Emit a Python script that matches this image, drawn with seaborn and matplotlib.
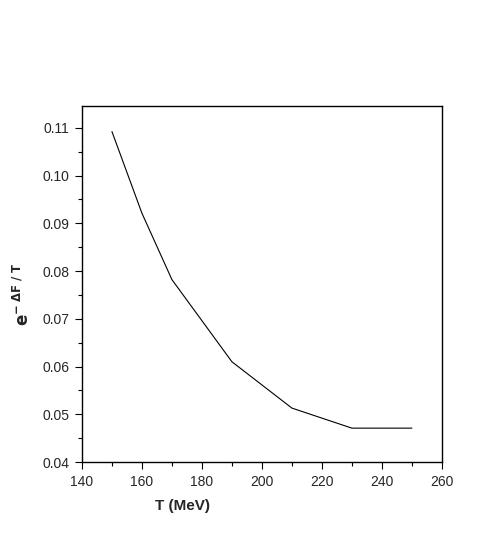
import matplotlib
matplotlib.use("Agg")
import matplotlib.pyplot as plt
import seaborn as sns
import pandas as pd
from matplotlib.ticker import MultipleLocator

T_values = [150, 160, 170, 190, 210, 230, 250]
exp_values = [0.1092, 0.0921, 0.0782, 0.0610, 0.0513, 0.0471, 0.0471]

sns.set_theme(style="white")
plt.rcParams['font.family'] = ['Liberation Sans', 'DejaVu Sans']

df = pd.DataFrame({"T": T_values, "val": exp_values})

fig = plt.figure(figsize=(4.85, 5.54), dpi=100)
ax = fig.add_axes([0.169, 0.166, 0.742, 0.643])
sns.lineplot(data=df, x="T", y="val", ax=ax, color="black", linewidth=0.8)

ax.set_xlim(140, 260)
ax.set_ylim(0.04, 0.1146)
ax.xaxis.set_major_locator(MultipleLocator(20))
ax.xaxis.set_minor_locator(MultipleLocator(10))
ax.yaxis.set_major_locator(MultipleLocator(0.01))
ax.yaxis.set_minor_locator(MultipleLocator(0.005))
ax.yaxis.set_major_formatter(matplotlib.ticker.FormatStrFormatter('%.2f'))

ax.tick_params(which='major', direction='out', length=5, width=0.8, color='black',
               labelsize=10, bottom=True, left=True, top=False, right=False, pad=4)
ax.tick_params(which='minor', direction='out', length=3, width=0.8, color='black',
               bottom=True, left=True, top=False, right=False)
for s in ax.spines.values():
    s.set_color('black')
    s.set_linewidth(1.0)

ax.set_xlabel("T (MeV)", fontsize=11, fontweight='bold')
ax.xaxis.set_label_coords(0.28, -0.105)
ax.set_ylabel(r"$\mathbf{e}^{\mathbf{-\ \Delta F\ /\ T}}$", fontsize=12)
ax.yaxis.set_label_coords(-0.138, 0.47)

fig.savefig("out.png", dpi=100)
